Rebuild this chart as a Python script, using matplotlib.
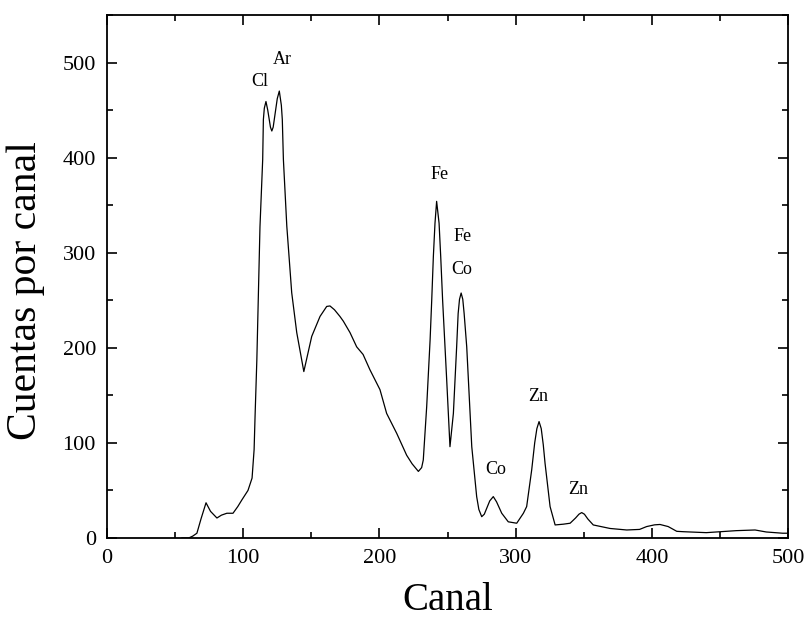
import matplotlib
matplotlib.use("Agg")
import matplotlib.pyplot as plt
from matplotlib.ticker import MultipleLocator

# spectrum (canal, cuentas)
canal = [55, 60, 63, 66, 69, 72.7, 76, 80.7, 84, 88, 92.5, 96, 99, 103.5, 106.5,
         108, 108.7, 110, 112.3, 114.3, 114.8, 115.5, 116.7, 118, 120, 121, 122,
         125, 126.5, 128, 128.7, 129.5, 132, 135.6, 139.3, 144.5, 150.3, 156.4,
         161.3, 163.7, 167, 171, 173.5, 178.4, 183.3, 188, 193, 200.4, 205.3,
         212.7, 220, 224, 228.6, 231, 232.2, 234.7, 237.2, 238.4, 239.6, 240.8,
         242, 243.8, 245, 246.4, 249.4, 251.8, 254.3, 256.7, 257.8, 258.8, 260,
         261.2, 262.2, 264.1, 267.8, 271.4, 273, 275.1, 277, 279, 281, 283.6,
         286, 289.8, 294.6, 300.8, 305.7, 308.1, 311.8, 314, 315.6, 317.2,
         318.8, 320.3, 321.6, 325.3, 329, 335, 340, 344, 346.5, 348.5, 350.5,
         353, 357, 369.3, 381.6, 391, 396.2, 402, 406, 412, 418.3, 423, 440,
         462, 475.8, 484, 496, 500]
cuentas = [0, 0, 2, 5, 20, 37, 28, 21, 24, 26, 26, 33, 40, 50, 63,
           93, 128, 187, 327, 398, 440, 452, 459, 450, 432, 428, 432,
           462, 470, 455, 440, 398, 328, 258, 216, 175, 212, 233,
           243.5, 244, 240, 233, 228, 216, 201, 193, 177, 156, 131,
           110, 87, 78, 70, 74, 82, 138, 208, 250, 296, 331,
           354, 331, 296, 250, 166, 96, 131, 201, 236, 251, 257.6,
           251, 236, 201, 96, 43.5, 30, 22.4, 25, 32, 39, 43.5,
           38, 26, 17, 15.5, 26, 33, 71.6, 100, 115, 122.4,
           115, 98, 78.6, 33, 13.7, 14.5, 15.5, 21, 25, 26.7, 25,
           20, 13.7, 10, 8.4, 9, 12, 13.8, 14.2, 12, 7, 6.6, 5.6,
           7.7, 8.4, 6.3, 5, 5]

# peak labels
etiquetas = ["Cl", "Ar", "Fe", "Fe", "Co", "Co", "Zn", "Zn"]
etiq_x = [112.5, 129, 244.5, 261, 260.5, 285, 316.7, 346]
etiq_y = [480, 503, 382, 317, 282, 72, 149, 51]

plt.rcParams["font.family"] = ["Liberation Serif", "DejaVu Serif"]

fig = plt.figure(figsize=(8.07, 6.19), dpi=100)
ax = fig.add_axes([0.1326, 0.1309, 0.8439, 0.8449])
ax.plot(canal, cuentas, color="black", lw=0.9)

for t, x, y in zip(etiquetas, etiq_x, etiq_y):
    ax.text(x, y, t, fontsize=13, ha="center", va="center")

ax.set_xlim(0, 500)
ax.set_ylim(0, 550)
ax.xaxis.set_major_locator(MultipleLocator(100))
ax.xaxis.set_minor_locator(MultipleLocator(50))
ax.yaxis.set_major_locator(MultipleLocator(100))
ax.yaxis.set_minor_locator(MultipleLocator(50))
ax.tick_params(which="both", direction="in", top=True, right=True, width=1.2)
ax.tick_params(which="major", length=7, labelsize=16, pad=8)
ax.tick_params(which="minor", length=4)
for s in ax.spines.values():
    s.set_linewidth(1.3)

ax.set_xlabel("Canal", fontsize=28, labelpad=10)
ax.set_ylabel("Cuentas por canal", fontsize=30)
ax.yaxis.set_label_coords(-0.091, 0.474)

fig.savefig("out.png", dpi=100)
